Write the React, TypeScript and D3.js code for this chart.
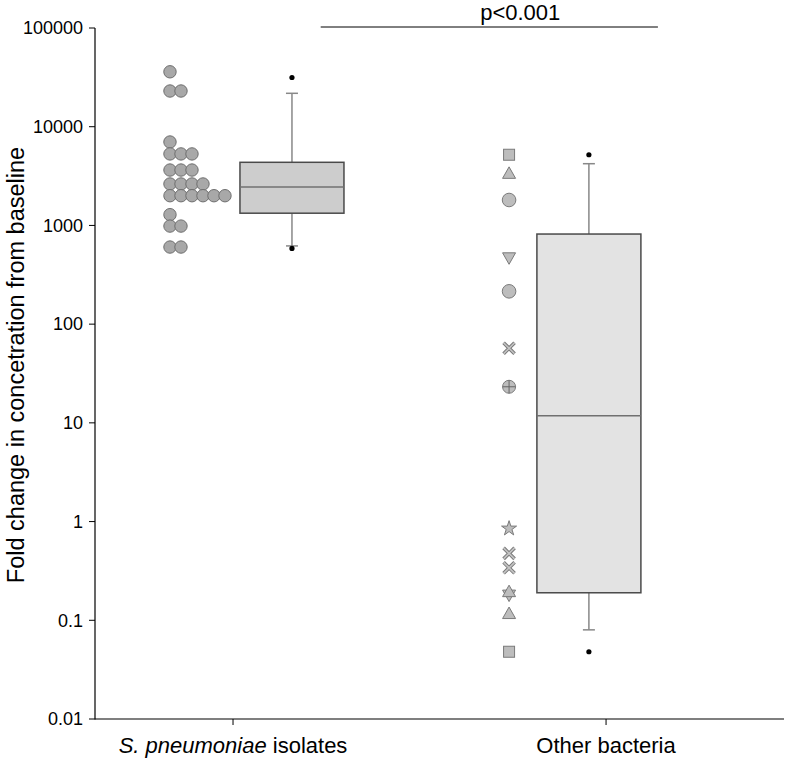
import React from "react";
import * as d3 from "d3";

// ---------- data ----------
const categories = ["S. pneumoniae isolates", "Other bacteria"];
const yTickValues = [0.01, 0.1, 1, 10, 100, 1000, 10000, 100000];
const yTickLabels = ["0.01", "0.1", "1", "10", "100", "1000", "10000", "100000"];

// individual S. pneumoniae isolate values
const pneumoValues = [
  36000, 23000, 23000, 7000, 5300, 5300, 5300, 3640, 3640, 3640,
  2630, 2630, 2630, 2630, 2000, 2000, 2000, 2000, 2000, 2000,
  1285, 985, 985, 604, 604,
];

// other bacteria: value + marker kind
const otherValues = [5200, 3370, 1810, 470, 215, 57, 23.2, 0.85, 0.476, 0.34, 0.18, 0.195, 0.117, 0.048];
const otherShapes = ["square", "triUp", "circle", "triDown", "circle", "x", "circlePlus", "star", "x", "x", "triDown", "triUp", "triUp", "square"];

// box statistics [whiskerLow, q1, median, q3, whiskerHigh]
const boxStats = [
  [620, 1330, 2450, 4360, 21800],
  [0.08, 0.19, 11.8, 818, 4220],
];
const boxOutliers = [
  [31500, 585],
  [5200, 0.048],
];
const pLabel = "p<0.001";

// ---------- layout ----------
const W = 787;
const H = 760;
const x = d3.scaleLinear().domain([0.63, 2.477]).range([95, 784]);
const y = d3.scaleLog().domain([0.01, 100000]).range([719, 28]);
const scatterOffset = [-0.169, -0.26];
const boxOffset = [0.158, -0.046];
const boxHalf = 52;
const capHalf = 6;
const sigRange = [1.235, 2.139];
const sigLabelX = 1.77;

function beeswarm(values: number[], cx: number, minD: number) {
  const placed: { x: number; y: number }[] = [];
  for (const v of values) {
    const py = y(v);
    let dx = 0;
    for (;;) {
      const ok = placed.every((p) => (p.x - (cx + dx)) ** 2 + (p.y - py) ** 2 >= minD * minD);
      if (ok) break;
      dx += 1;
    }
    placed.push({ x: cx + dx, y: py });
  }
  return placed;
}

function Marker({ kind, cx, cy }: { kind: string; cx: number; cy: number }) {
  const fill = "#bdbdbd";
  const stroke = "#7a7a7a";
  if (kind === "square") {
    return <rect x={cx - 5.5} y={cy - 5.5} width={11} height={11} fill={fill} stroke={stroke} strokeWidth={1} />;
  }
  if (kind === "circle") {
    return <circle cx={cx} cy={cy} r={6.8} fill={fill} stroke={stroke} strokeWidth={1} />;
  }
  if (kind === "triUp") {
    const p = `M${cx},${cy - 6.5}L${cx + 6.5},${cy + 5}L${cx - 6.5},${cy + 5}Z`;
    return <path d={p} fill={fill} stroke={stroke} strokeWidth={1} />;
  }
  if (kind === "triDown") {
    const p = `M${cx},${cy + 6.5}L${cx + 6.5},${cy - 5}L${cx - 6.5},${cy - 5}Z`;
    return <path d={p} fill={fill} stroke={stroke} strokeWidth={1} />;
  }
  if (kind === "circlePlus") {
    return (
      <g>
        <circle cx={cx} cy={cy} r={6.5} fill={fill} stroke={stroke} strokeWidth={1} />
        <line x1={cx - 6.5} x2={cx + 6.5} y1={cy} y2={cy} stroke="#666" strokeWidth={1} />
        <line x1={cx} x2={cx} y1={cy - 6.5} y2={cy + 6.5} stroke="#666" strokeWidth={1} />
      </g>
    );
  }
  if (kind === "x") {
    const s = 5.5;
    const d = `M${cx - s},${cy - s}L${cx + s},${cy + s}M${cx - s},${cy + s}L${cx + s},${cy - s}`;
    return (
      <g>
        <path d={d} stroke="#7a7a7a" strokeWidth={3.6} />
        <path d={d} stroke="#c4c4c4" strokeWidth={1.6} />
      </g>
    );
  }
  if (kind === "star") {
    const d = d3.symbol().type(d3.symbolStar).size(70)() as string;
    return <path d={d} transform={`translate(${cx},${cy})`} fill={fill} stroke={stroke} strokeWidth={1} />;
  }
  return null;
}

export default function App() {
  const font = "'Liberation Sans', Arial, sans-serif";
  const left = beeswarm(pneumoValues, x(1 + scatterOffset[0]), 10.5);
  const otherX = x(2 + scatterOffset[1]);
  const boxFills = ["#cdcdcd", "#e3e3e3"];

  return (
    <svg width={W} height={H} style={{ position: "absolute", left: 0, top: 0, background: "#fff" }} fontFamily={font}>
      {/* significance bar */}
      <line x1={x(sigRange[0])} x2={x(sigRange[1])} y1={27} y2={27} stroke="#000" strokeWidth={1} />
      <text x={x(sigLabelX)} y={20} fontSize={22} textAnchor="middle" fill="#000">{pLabel}</text>

      {/* y axis */}
      <line x1={95} x2={95} y1={y(100000)} y2={y(0.01) + 0.5} stroke="#000" strokeWidth={1.2} />
      {yTickValues.map((v, i) => (
        <g key={v}>
          <line x1={89} x2={95} y1={y(v)} y2={y(v)} stroke="#000" strokeWidth={1} />
          <text x={83} y={y(v)} dy="0.35em" fontSize={18} textAnchor="end" fill="#000">{yTickLabels[i]}</text>
        </g>
      ))}
      <text transform={`translate(24,365) rotate(-90)`} fontSize={23.5} textAnchor="middle" fill="#000">
        Fold change in concetration from baseline
      </text>

      {/* x axis */}
      <line x1={95} x2={784} y1={719} y2={719} stroke="#000" strokeWidth={1.2} />
      {categories.map((c, i) => (
        <line key={c} x1={x(i + 1)} x2={x(i + 1)} y1={719} y2={725} stroke="#000" strokeWidth={1} />
      ))}
      <text x={x(1)} y={753} fontSize={22} textAnchor="middle" fill="#000">
        <tspan fontStyle="italic">S. pneumoniae</tspan> isolates
      </text>
      <text x={x(2)} y={753} fontSize={22} textAnchor="middle" fill="#000">{categories[1]}</text>

      {/* box plots */}
      {boxStats.map((s, i) => {
        const cx = x(i + 1 + boxOffset[i]);
        return (
          <g key={i}>
            <line x1={cx} x2={cx} y1={y(s[0])} y2={y(s[1])} stroke="#888" strokeWidth={1.5} />
            <line x1={cx} x2={cx} y1={y(s[3])} y2={y(s[4])} stroke="#888" strokeWidth={1.5} />
            <line x1={cx - capHalf} x2={cx + capHalf} y1={y(s[0])} y2={y(s[0])} stroke="#888" strokeWidth={1.5} />
            <line x1={cx - capHalf} x2={cx + capHalf} y1={y(s[4])} y2={y(s[4])} stroke="#888" strokeWidth={1.5} />
            <rect x={cx - boxHalf} y={y(s[3])} width={boxHalf * 2} height={y(s[1]) - y(s[3])} fill={boxFills[i]} stroke="#4a4a4a" strokeWidth={1.5} />
            <line x1={cx - boxHalf} x2={cx + boxHalf} y1={y(s[2])} y2={y(s[2])} stroke="#707070" strokeWidth={1.3} />
            {boxOutliers[i].map((o, j) => (
              <circle key={j} cx={cx} cy={y(o)} r={2.6} fill="#000" />
            ))}
          </g>
        );
      })}

      {/* S. pneumoniae points */}
      {left.map((p, i) => (
        <circle key={i} cx={p.x} cy={p.y} r={6.2} fill="#a8a8a8" stroke="#6e6e6e" strokeWidth={1} />
      ))}

      {/* other bacteria markers */}
      {otherValues.map((v, i) => (
        <Marker key={i} kind={otherShapes[i]} cx={otherX} cy={y(v)} />
      ))}
    </svg>
  );
}
